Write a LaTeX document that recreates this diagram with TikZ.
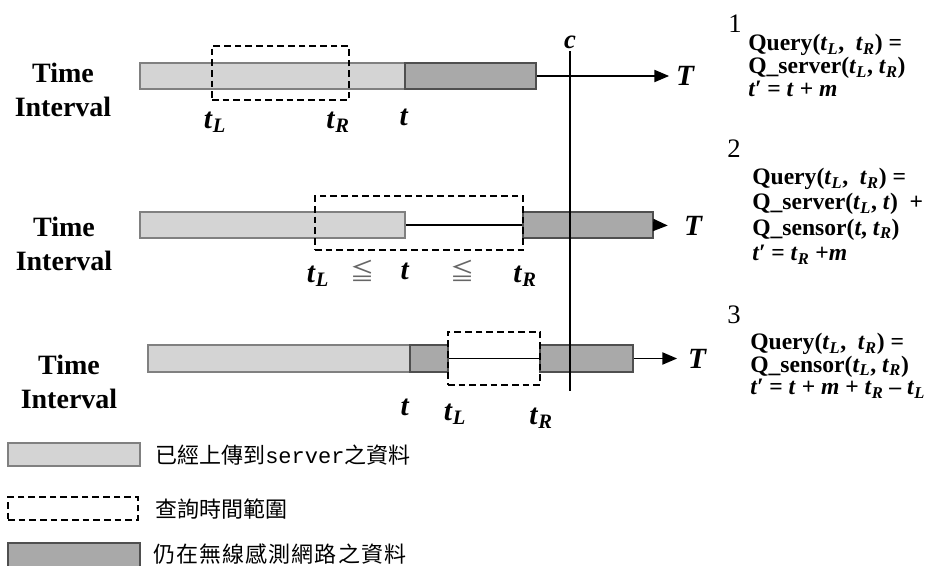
\documentclass[tikz,border=0pt]{standalone}
\usepackage{fontspec}
\setmainfont{Liberation Serif}
\newfontfamily\cjk{Noto Sans CJK TC}
\newfontfamily\cjkwide[LetterSpace=5]{Noto Sans CJK TC}
\newfontfamily\monofont{Liberation Mono}
\usetikzlibrary{positioning, fit, arrows.meta}

\definecolor{oldfill}{HTML}{D4D4D4}
\definecolor{olddraw}{HTML}{808080}
\definecolor{newfill}{HTML}{A9A9A9}
\definecolor{newdraw}{HTML}{4F4F4F}

\newcommand{\tv}[1]{\textit{t}\textsubscript{\textit{#1}}}

\begin{document}
\begin{tikzpicture}[
    x=0.75pt, y=-0.75pt,
    >={Triangle[length=11pt, width=9pt]},
    oldbar/.style={draw=olddraw, fill=oldfill, line width=1.8pt, inner sep=0pt},
    newbar/.style={draw=newdraw, fill=newfill, line width=1.8pt, inner sep=0pt},
    qbox/.style={draw, dashed, dash pattern=on 5pt off 3pt, line width=0.9pt, inner sep=0pt},
    axis/.style={->, line width=1.4pt},
    rowlabel/.style={font=\fontsize{21}{26}\selectfont\bfseries, align=center},
    tlabel/.style={font=\fontsize{22}{22}\selectfont\bfseries, inner sep=1pt},
    leq/.style={font=\fontsize{18}{18}\selectfont\cjk, text=black!60, inner sep=0pt},
    axislabel/.style={font=\fontsize{22}{22}\selectfont\bfseries\itshape, inner sep=2pt},
    casenum/.style={font=\fontsize{20}{20}\selectfont, anchor=base west, inner sep=0pt},
    formula/.style={font=\bfseries, anchor=north west, align=left, inner sep=0pt},
    legtext/.style={anchor=west, inner sep=0pt}
]
    \clip (0,0) rectangle (926,565);

    % --- ROW 1: t_L, t_R < t ---
    \node[rowlabel] (row1) at (63,90) {Time\\Interval};
    \node[oldbar, fit={(140,63) (405,89)}] (old1) {};
    \node[newbar, fit={(405,63) (536,89)}] (new1) {};
    \node[qbox, fit={(212,46) (349,100)}] (q1) {};
    \node[axislabel] (T1) at (685,76) {T};
    \draw[axis, shorten >=3pt] (new1.east) -- (T1.west);
    \node[tlabel] (tl1) at (215,122) {\tv{L}};
    \node[tlabel] (tr1) at (338,122) {\tv{R}};
    \node[tlabel] (t1) at (404,117) {\textit{t}};

    % --- ROW 2: t_L <= t <= t_R ---
    \node[rowlabel] (row2) at (64,244) {Time\\Interval};
    \node[oldbar, fit={(140,212) (405,238)}] (old2) {};
    \node[newbar, fit={(523,212) (653,238)}] (new2) {};
    \node[qbox, fit={(315,196) (523,250)}] (q2) {};
    \draw[line width=1.4pt] (old2.east) -- (new2.west);
    \node[axislabel] (T2) at (693,226) {T};
    \draw[axis, shorten >=10pt] (new2.east) -- (T2.west);
    \node[tlabel] (tl2) at (318,276) {\tv{L}};
    \node[leq] (le1) at (362,271) {≦};
    \node[tlabel] (t2) at (405,271) {\textit{t}};
    \node[leq] (le2) at (462,271) {≦};
    \node[tlabel] (tr2) at (525,276) {\tv{R}};

    % --- ROW 3: t < t_L ---
    \node[rowlabel] (row3) at (69,382) {Time\\Interval};
    \node[oldbar, fit={(148,345) (410,372)}] (old3) {};
    \node[newbar, fit={(410,345) (448,372)}] (new3) {};
    \node[newbar, fit={(540,345) (633,372)}] (new4) {};
    \node[qbox, fit={(448,332) (540,385)}] (q3) {};
    \draw[line width=1.4pt] (new3.east) -- (new4.west);
    \node[axislabel] (T3) at (697,358.5) {T};
    \draw[axis, shorten >=6pt] (new4.east) -- (T3.west);
    \node[tlabel] (t3) at (405,407) {\textit{t}};
    \node[tlabel] (tl3) at (455,414) {\tv{L}};
    \node[tlabel] (tr3) at (541,418) {\tv{R}};

    % current time line
    \node[axislabel, font=\fontsize{20}{20}\selectfont\bfseries\itshape] (c) at (570,42) {c};
    \coordinate (cend) at (570,391);
    \draw[line width=1.2pt] (c.south) -- (cend);

    % --- QUERY FORMULAS ---
    \node[casenum] (n1) at (728,32) {1};
    \node[formula, font=\fontsize{17.7}{17.3}\selectfont\bfseries] (f1) at (748,34)
        {Query(\tv{L}, \ \tv{R}) =\\Q\_server(\tv{L}, \tv{R})\\\textit{t′} = \textit{t} + \textit{m}};
    \node[casenum] (n2) at (727,157) {2};
    \node[formula, font=\fontsize{17.7}{19}\selectfont\bfseries] (f2) at (752,168)
        {Query(\tv{L}, \ \tv{R}) =\\Q\_server(\tv{L}, \textit{t}) \ +\\Q\_sensor(\textit{t}, \tv{R})\\\textit{t′} = \tv{R} +\textit{m}};
    \node[casenum] (n3) at (727,323) {3};
    \node[formula, font=\fontsize{17.7}{17}\selectfont\bfseries] (f3) at (750,333)
        {Query(\tv{L}, \ \tv{R}) =\\Q\_sensor(\tv{L}, \tv{R})\\\textit{t′} = \textit{t} + \textit{m} + \tv{R} – \tv{L}};

    % --- LEGEND ---
    \node[oldbar, fit={(8,443) (140,466)}] (leg1) {};
    \node[legtext, font=\fontsize{16.5}{16.5}\selectfont\cjk] (legtext1) at (155,455) {已經上傳到{\monofont server}之資料};
    \node[qbox, fit={(8,497) (138,520)}] (leg2) {};
    \node[legtext, font=\fontsize{16.5}{16.5}\selectfont\cjk] (legtext2) at (155,509) {查詢時間範圍};
    \node[newbar, fit={(8,543) (140,570)}] (leg3) {};
    \node[legtext, font=\fontsize{16.5}{16.5}\selectfont\cjkwide] (legtext3) at (153,554) {仍在無線感測網路之資料};
\end{tikzpicture}
\end{document}
